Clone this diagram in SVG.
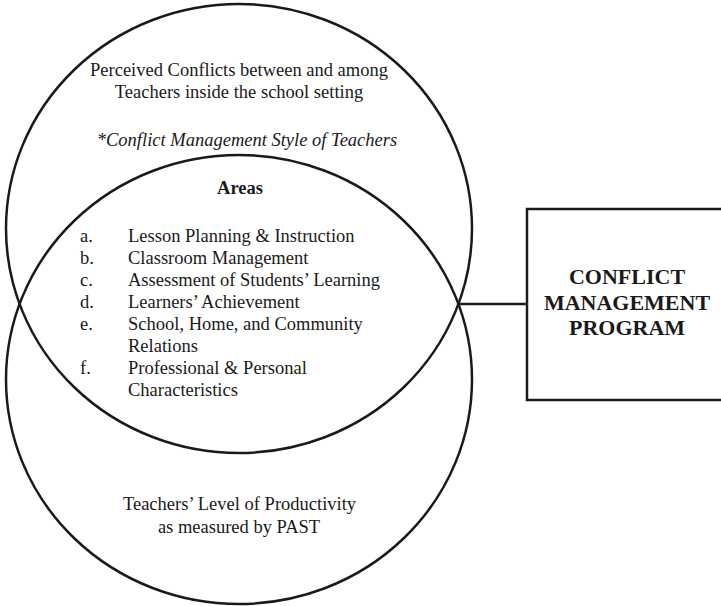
<svg xmlns="http://www.w3.org/2000/svg" width="721" height="606" viewBox="0 0 721 606">
  <style>
    .ring { fill: none; stroke: #1a1a1a; stroke-width: 2.5; }
    .box { fill: #ffffff; stroke: #1a1a1a; stroke-width: 2.5; }
    .link { stroke: #1a1a1a; stroke-width: 2.5; fill: none; }
    text { font-family: "Liberation Serif", "Times New Roman", serif; font-size: 18.5px; fill: #1a1a1a; }
    .c { text-anchor: middle; }
    .it { font-style: italic; }
    .b { font-weight: bold; }
    .prog { font-weight: bold; font-size: 22px; text-anchor: middle; }
  </style>

  <rect width="721" height="606" fill="#ffffff"/>

  <!-- connector from the circles' right intersection to the program box -->
  <g id="connectors">
    <line class="link" x1="458" y1="304" x2="527" y2="304"/>
  </g>

  <!-- upper circle: perceived conflicts -->
  <g id="conflicts">
    <ellipse class="ring" cx="239" cy="228.5" rx="233" ry="224.5"/>
    <text class="c" x="239" y="76">Perceived Conflicts between and among</text>
    <text class="c" x="239" y="98">Teachers inside the school setting</text>
    <text class="c it" x="247" y="145.5">*Conflict Management Style of Teachers</text>
  </g>

  <!-- lower circle: productivity -->
  <g id="productivity">
    <ellipse class="ring" cx="239" cy="379.5" rx="233" ry="224.5"/>
    <text class="c" x="239.5" y="510">Teachers’ Level of Productivity</text>
    <text class="c" x="239" y="533">as measured by PAST</text>
  </g>

  <!-- overlapping areas list -->
  <g id="areas">
    <text class="c b" x="240" y="194">Areas</text>
    <text x="80" y="242">a.</text><text x="128" y="242">Lesson Planning &amp; Instruction</text>
    <text x="80" y="264">b.</text><text x="128" y="264">Classroom Management</text>
    <text x="80" y="286">c.</text><text x="128" y="286">Assessment of Students’ Learning</text>
    <text x="80" y="308">d.</text><text x="128" y="308">Learners’ Achievement</text>
    <text x="80" y="330">e.</text><text x="128" y="330">School, Home, and Community</text>
    <text x="128" y="352">Relations</text>
    <text x="80" y="374">f.</text><text x="128" y="374">Professional &amp; Personal</text>
    <text x="128" y="396">Characteristics</text>
  </g>

  <!-- program box -->
  <g id="program">
    <rect class="box" x="527" y="209" width="210" height="191"/>
    <text class="prog" x="627" y="284">CONFLICT</text>
    <text class="prog" x="627" y="309.5">MANAGEMENT</text>
    <text class="prog" x="627" y="335">PROGRAM</text>
  </g>
</svg>
